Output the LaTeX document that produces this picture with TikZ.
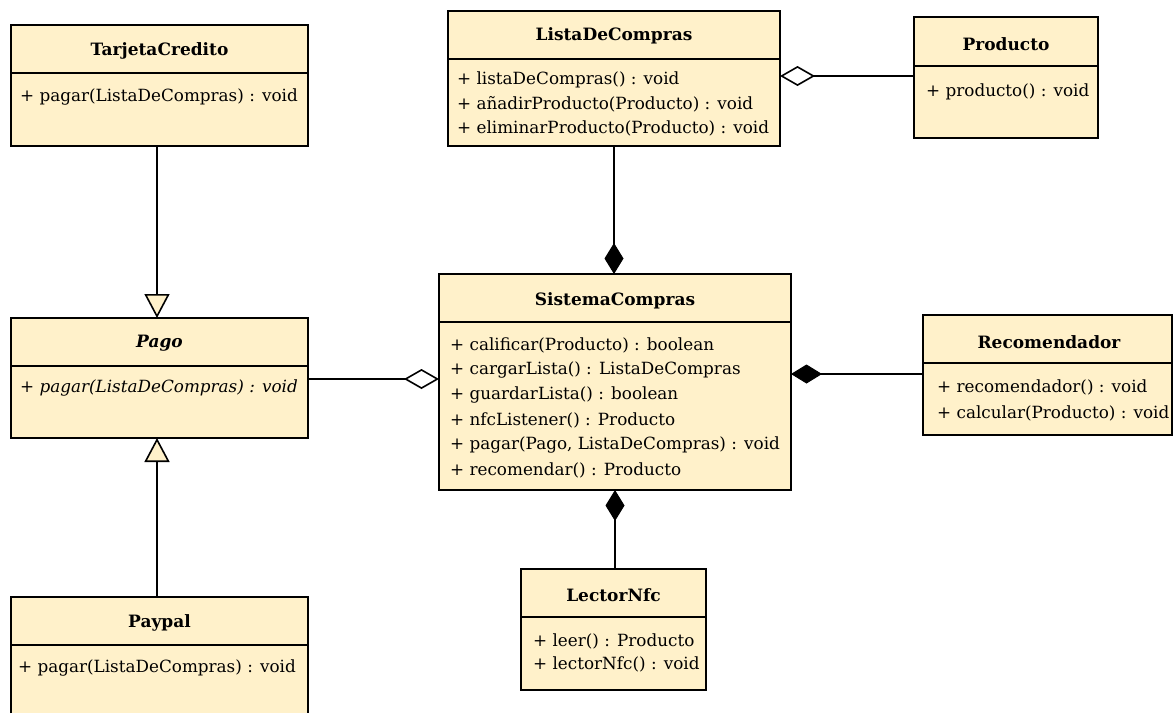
\documentclass[tikz,border=0pt]{standalone}
\usepackage{fontspec}
\setmainfont{DejaVu Serif}
\usetikzlibrary{arrows.meta}
\definecolor{umlfill}{RGB}{255,241,202}
\begin{document}
\begin{tikzpicture}[x=1pt,y=-1pt,
  box/.style={draw, line width=1.6pt, fill=umlfill, anchor=north west, inner sep=0pt, outer sep=0pt},
  ttl/.style={font=\fontsize{17}{20}\selectfont\bfseries, inner sep=0pt},
  meth/.style={font=\fontsize{16.8}{20}\selectfont, inner sep=0pt, anchor=west},
  sep/.style={line width=1.6pt},
  conn/.style={line width=1.6pt},
  gen/.style={conn, -{Triangle[length=24pt, width=25pt, fill=umlfill, line width=1.6pt]}},
  agg/.style={conn, -{Diamond[length=35pt, width=20pt, fill=white, line width=1.6pt]}},
  comp/.style={conn, -{Diamond[length=31pt, width=19pt, line width=1pt]}}
]
\useasboundingbox (0,0) rectangle (1174,713);

% TarjetaCredito
\node[box, minimum width=297pt, minimum height=121pt] (tc) at (11,25) {};
\draw[sep] (11,73) -- (308,73);
\node[ttl] (tct) at (159.5,51) {TarjetaCredito};
\node[meth] (tcm1) at (20,97) {+ pagar(ListaDeCompras) : void};

% Pago
\node[box, minimum width=297pt, minimum height=120pt] (pago) at (11,318) {};
\draw[sep] (11,366) -- (308,366);
\node[ttl, font=\fontsize{17}{20}\selectfont\bfseries\itshape] (pagot) at (159.5,343) {Pago};
\node[meth, font=\fontsize{16.8}{20}\selectfont\itshape] (pagom1) at (20,388) {+ pagar(ListaDeCompras) : void};

% Paypal (cut at the bottom edge)
\node[fill=umlfill, anchor=north west, inner sep=0pt, outer sep=0pt, minimum width=297pt, minimum height=116pt] (pp) at (11,597) {};
\draw[sep] (pp.south west) -- (pp.north west) -- (pp.north east) -- (pp.south east);
\draw[sep] (11,645) -- (308,645);
\node[ttl] (ppt) at (159.5,623) {Paypal};
\node[meth] (ppm1) at (18,668) {+ pagar(ListaDeCompras) : void};

% ListaDeCompras
\node[box, minimum width=332pt, minimum height=135pt] (lista) at (448,11) {};
\draw[sep] (448,59) -- (780,59);
\node[ttl] (listat) at (614,36) {ListaDeCompras};
\node[meth] (listam1) at (457,80) {+ listaDeCompras() : void};
\node[meth] (listam2) at (457,104) {+ añadirProducto(Producto) : void};
\node[meth] (listam3) at (457,128) {+ eliminarProducto(Producto) : void};

% Producto
\node[box, minimum width=184pt, minimum height=121pt] (prod) at (914,17) {};
\draw[sep] (914,66) -- (1098,66);
\node[ttl] (prodt) at (1006,44) {Producto};
\node[meth] (prodm1) at (926,92) {+ producto() : void};

% SistemaCompras
\node[box, minimum width=352pt, minimum height=216pt] (sis) at (439,274) {};
\draw[sep] (439,322) -- (791,322);
\node[ttl] (sist) at (615,301) {SistemaCompras};
\node[meth] (sism1) at (450,345) {+ calificar(Producto) : boolean};
\node[meth] (sism2) at (450,370) {+ cargarLista() : ListaDeCompras};
\node[meth] (sism3) at (450,395) {+ guardarLista() : boolean};
\node[meth] (sism4) at (450,420) {+ nfcListener() : Producto};
\node[meth] (sism5) at (450,445) {+ pagar(Pago, ListaDeCompras) : void};
\node[meth] (sism6) at (450,470) {+ recomendar() : Producto};

% Recomendador
\node[box, minimum width=249pt, minimum height=120pt] (rec) at (923,315) {};
\draw[sep] (923,363) -- (1172,363);
\node[ttl] (rect) at (1049,342) {Recomendador};
\node[meth] (recm1) at (937,387) {+ recomendador() : void};
\node[meth] (recm2) at (937,413) {+ calcular(Producto) : void};

% LectorNfc
\node[box, minimum width=185pt, minimum height=121pt] (lec) at (521,569) {};
\draw[sep] (521,617) -- (706,617);
\node[ttl] (lect) at (613.5,595) {LectorNfc};
\node[meth] (lecm1) at (533,641) {+ leer() : Producto};
\node[meth] (lecm2) at (533,664) {+ lectorNfc() : void};

% connectors
\draw[gen] ([xshift=-2.5pt]tc.south) -- ([xshift=-2.5pt]pago.north);
\draw[gen] ([xshift=-2.5pt]pp.north) -- ([xshift=-2.5pt]pago.south);
\draw[agg] ([yshift=-1pt]pago.east) -- ([yshift=-1pt]pago.east -| sis.west);
\draw[agg] ([yshift=1.5pt]prod.west) -- ([yshift=1.5pt]prod.west -| lista.east);
\draw[comp] (lista.south) -- (lista.south |- sis.north);
\draw[comp] ([xshift=1.5pt]lec.north) -- ([xshift=1.5pt]lec.north |- sis.south);
\draw[comp] ([yshift=1pt]rec.west) -- ([yshift=1pt]rec.west -| sis.east);
\end{tikzpicture}
\end{document}
